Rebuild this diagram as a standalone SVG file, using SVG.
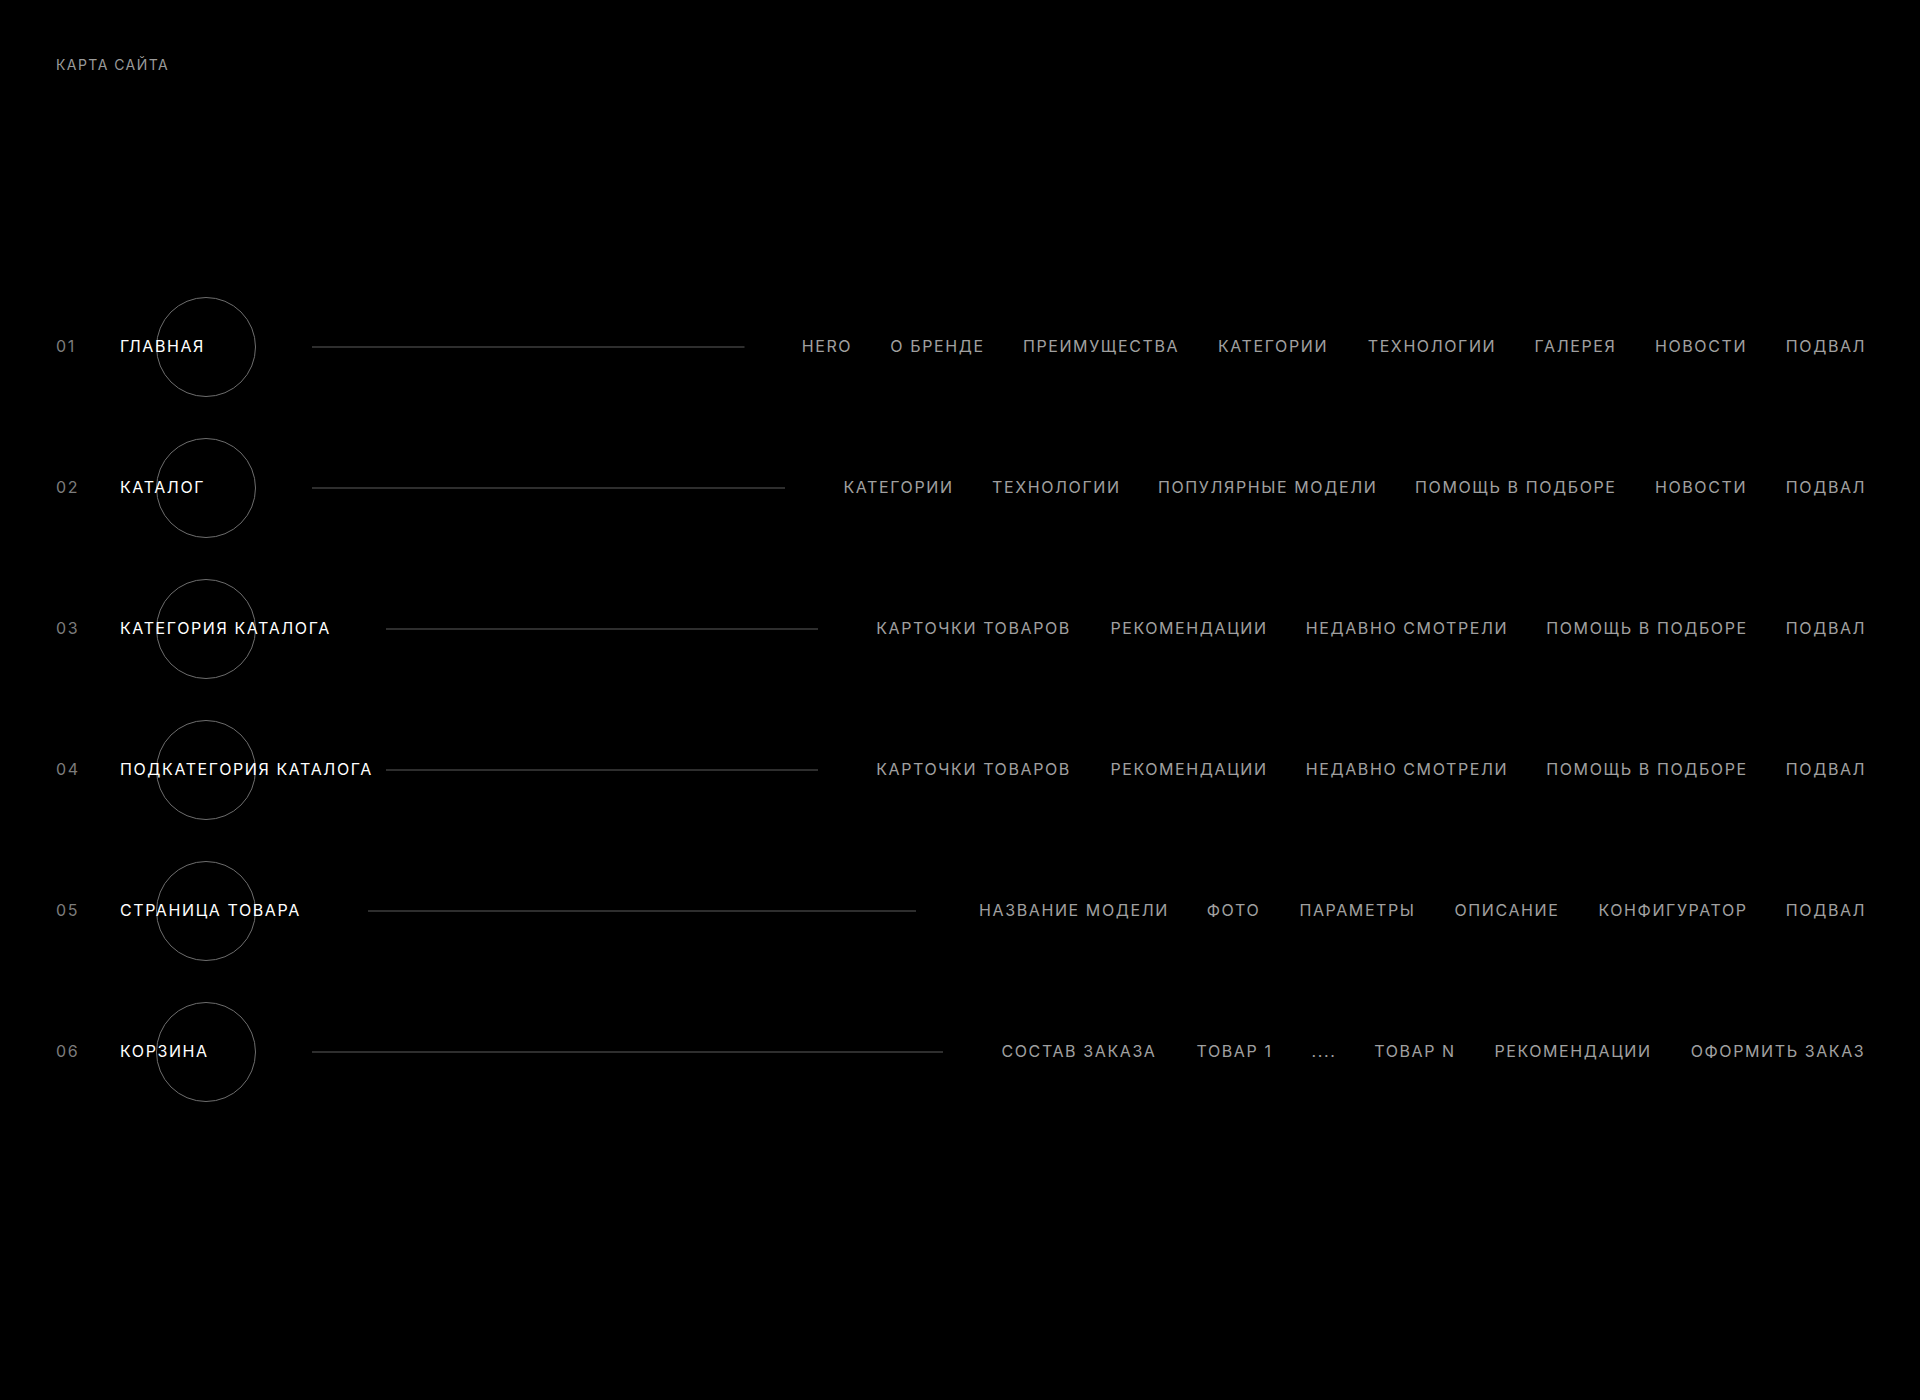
<svg xmlns="http://www.w3.org/2000/svg" width="1920" height="1400" viewBox="0 0 1920 1400">
<style>
text{font-family:Inter,"Noto Sans","Liberation Sans",sans-serif;}
.title{font-size:14px;fill:#9a9a9a;letter-spacing:1.45px;}
.num{font-size:16px;fill:#7c7c7c;letter-spacing:1.6px;}
.lbl{font-size:16px;fill:#ffffff;letter-spacing:1.6px;}
.it{font-size:16px;fill:#a0a0a0;letter-spacing:1.6px;text-anchor:middle;}
.ring{fill:none;stroke:#6e6e6e;stroke-width:1;}
.conn{stroke:#5c5c5c;stroke-width:1;fill:none;}
</style>
<rect width="1920" height="1400" fill="#000000"/>
<text class="title" x="56" y="69.5">КАРТА САЙТА</text>
<g id="connectors">
<line class="conn" x1="312" y1="347" x2="744.5" y2="347"/>
<line class="conn" x1="312" y1="488" x2="785" y2="488"/>
<line class="conn" x1="386" y1="629" x2="818" y2="629"/>
<line class="conn" x1="386" y1="770" x2="818" y2="770"/>
<line class="conn" x1="368" y1="911" x2="916" y2="911"/>
<line class="conn" x1="312" y1="1052" x2="943" y2="1052"/>
</g>
<g id="node-01">
<circle class="ring" cx="206" cy="347" r="49.5"/>
<text class="num" x="56" y="352">01</text>
<text class="lbl" x="120" y="352">ГЛАВНАЯ</text>
<text class="it" x="827" y="352">HERO</text>
<text class="it" x="937.5" y="352">О БРЕНДЕ</text>
<text class="it" x="1101" y="352">ПРЕИМУЩЕСТВА</text>
<text class="it" x="1273" y="352">КАТЕГОРИИ</text>
<text class="it" x="1432" y="352">ТЕХНОЛОГИИ</text>
<text class="it" x="1575.5" y="352">ГАЛЕРЕЯ</text>
<text class="it" x="1701" y="352">НОВОСТИ</text>
<text class="it" x="1826" y="352">ПОДВАЛ</text>
</g>
<g id="node-02">
<circle class="ring" cx="206" cy="488" r="49.5"/>
<text class="num" x="56" y="493">02</text>
<text class="lbl" x="120" y="493">КАТАЛОГ</text>
<text class="it" x="898.5" y="493">КАТЕГОРИИ</text>
<text class="it" x="1056.3" y="493">ТЕХНОЛОГИИ</text>
<text class="it" x="1267.7" y="493">ПОПУЛЯРНЫЕ МОДЕЛИ</text>
<text class="it" x="1515.8" y="493">ПОМОЩЬ В ПОДБОРЕ</text>
<text class="it" x="1701" y="493">НОВОСТИ</text>
<text class="it" x="1826" y="493">ПОДВАЛ</text>
</g>
<g id="node-03">
<circle class="ring" cx="206" cy="629" r="49.5"/>
<text class="num" x="56" y="634">03</text>
<text class="lbl" x="120" y="634">КАТЕГОРИЯ КАТАЛОГА</text>
<text class="it" x="973.5" y="634">КАРТОЧКИ ТОВАРОВ</text>
<text class="it" x="1189" y="634">РЕКОМЕНДАЦИИ</text>
<text class="it" x="1407" y="634">НЕДАВНО СМОТРЕЛИ</text>
<text class="it" x="1647" y="634">ПОМОЩЬ В ПОДБОРЕ</text>
<text class="it" x="1826" y="634">ПОДВАЛ</text>
</g>
<g id="node-04">
<circle class="ring" cx="206" cy="770" r="49.5"/>
<text class="num" x="56" y="775">04</text>
<text class="lbl" x="120" y="775">ПОДКАТЕГОРИЯ КАТАЛОГА</text>
<text class="it" x="973.5" y="775">КАРТОЧКИ ТОВАРОВ</text>
<text class="it" x="1189" y="775">РЕКОМЕНДАЦИИ</text>
<text class="it" x="1407" y="775">НЕДАВНО СМОТРЕЛИ</text>
<text class="it" x="1647" y="775">ПОМОЩЬ В ПОДБОРЕ</text>
<text class="it" x="1826" y="775">ПОДВАЛ</text>
</g>
<g id="node-05">
<circle class="ring" cx="206" cy="911" r="49.5"/>
<text class="num" x="56" y="916">05</text>
<text class="lbl" x="120" y="916">СТРАНИЦА ТОВАРА</text>
<text class="it" x="1074" y="916">НАЗВАНИЕ МОДЕЛИ</text>
<text class="it" x="1233.5" y="916">ФОТО</text>
<text class="it" x="1357.5" y="916">ПАРАМЕТРЫ</text>
<text class="it" x="1507" y="916">ОПИСАНИЕ</text>
<text class="it" x="1673" y="916">КОНФИГУРАТОР</text>
<text class="it" x="1826" y="916">ПОДВАЛ</text>
</g>
<g id="node-06">
<circle class="ring" cx="206" cy="1052" r="49.5"/>
<text class="num" x="56" y="1057">06</text>
<text class="lbl" x="120" y="1057">КОРЗИНА</text>
<text class="it" x="1079" y="1057">СОСТАВ ЗАКАЗА</text>
<text class="it" x="1234.5" y="1057">ТОВАР 1</text>
<text class="it" x="1324" y="1057">....</text>
<text class="it" x="1415" y="1057">ТОВАР N</text>
<text class="it" x="1573" y="1057">РЕКОМЕНДАЦИИ</text>
<text class="it" x="1778" y="1057">ОФОРМИТЬ ЗАКАЗ</text>
</g>
</svg>
